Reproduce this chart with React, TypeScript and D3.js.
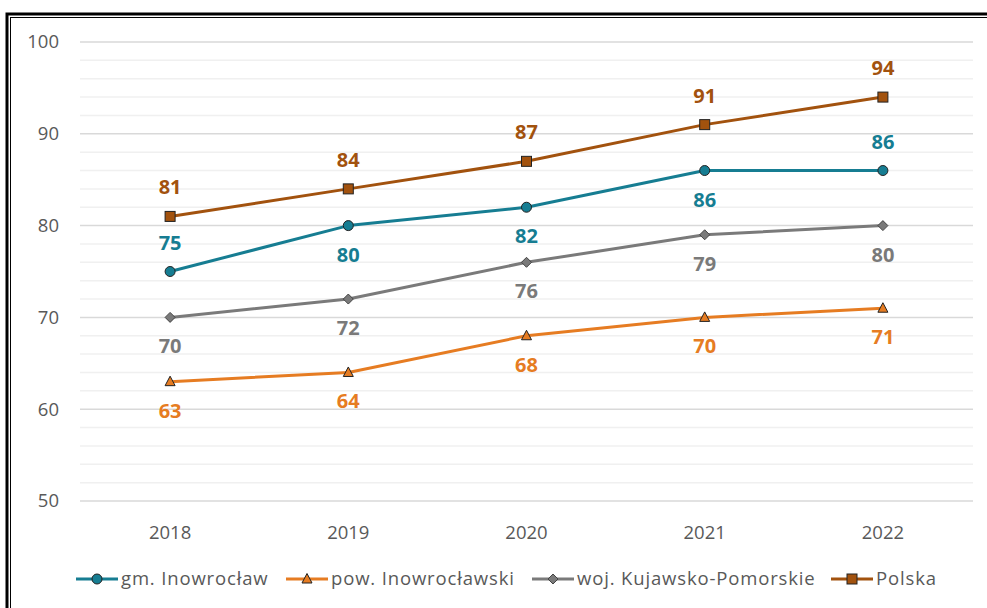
import React from "react";
import * as d3 from "d3";

const years = ["2018", "2019", "2020", "2021", "2022"];
const gmValues = [75, 80, 82, 86, 86];
const powValues = [63, 64, 68, 70, 71];
const wojValues = [70, 72, 76, 79, 80];
const plValues = [81, 84, 87, 91, 94];
const yTicks = [50, 60, 70, 80, 90, 100];

const seriesNames = ["gm. Inowrocław", "pow. Inowrocławski", "woj. Kujawsko-Pomorskie", "Polska"];
// label placement: 1 = above, -1 = below
const gmLabelPos = [1, -1, -1, -1, 1];
const powLabelPos = [-1, -1, -1, -1, -1];
const wojLabelPos = [-1, -1, -1, -1, -1];
const plLabelPos = [1, 1, 1, 1, 1];

const W = 987;
const H = 608;
const left = 81;
const right = 972;
const top = 42;
const bottom = 501;

const series = [
  { name: seriesNames[0], values: gmValues, pos: gmLabelPos, color: "#167d92", marker: "circle" },
  { name: seriesNames[1], values: powValues, pos: powLabelPos, color: "#e67c22", marker: "triangle" },
  { name: seriesNames[2], values: wojValues, pos: wojLabelPos, color: "#7a7a7a", marker: "diamond" },
  { name: seriesNames[3], values: plValues, pos: plLabelPos, color: "#a2520e", marker: "square" },
];

const legendX = [76, 286, 532, 831];

function Marker({ type, x, y, color }: { type: string; x: number; y: number; color: string }) {
  const stroke = "#222";
  if (type === "circle") return <circle cx={x} cy={y} r={5} fill={color} stroke={stroke} strokeWidth={1} />;
  if (type === "square") return <rect x={x - 5} y={y - 5} width={10} height={10} fill={color} stroke={stroke} strokeWidth={1} />;
  if (type === "triangle")
    return <path d={`M${x},${y - 5.5}L${x + 5},${y + 4}L${x - 5},${y + 4}Z`} fill={color} stroke={stroke} strokeWidth={1} />;
  return <path d={`M${x},${y - 5}L${x + 5},${y}L${x},${y + 5}L${x - 5},${y}Z`} fill={color} stroke="#444" strokeWidth={1} />;
}

export default function App() {
  const x = d3.scaleBand<string>().domain(years).range([left, right]);
  const y = d3.scaleLinear().domain([50, 100]).range([bottom, top]);
  const cx = (yr: string) => (x(yr) as number) + x.bandwidth() / 2;
  const line = d3
    .line<number>()
    .x((_, i) => cx(years[i]))
    .y((d) => y(d));
  const minor = d3.range(50, 101, 2).filter((v) => v % 10 !== 0);
  const font = "'Open Sans', sans-serif";

  return (
    <div style={{ position: "fixed", left: 0, top: 0 }}>
      <svg width={W} height={H} style={{ display: "block", background: "#fff" }}>
        <rect x={0} y={0} width={W} height={H} fill="#fff" />
        <rect x={7} y={14} width={W + 20} height={H + 20} fill="none" stroke="#000" strokeWidth={3} />
        <rect x={10.5} y={17.5} width={W + 20} height={H + 20} fill="none" stroke="#000" strokeWidth={1} />
        {minor.map((v) => (
          <line key={"m" + v} x1={left - 1} x2={right + 1} y1={y(v)} y2={y(v)} stroke="#f0f0f0" strokeWidth={1.5} />
        ))}
        {yTicks.map((v) => (
          <line key={"g" + v} x1={left - 1} x2={right + 1} y1={y(v)} y2={y(v)} stroke="#d9d9d9" strokeWidth={1.5} />
        ))}
        {yTicks.map((v) => (
          <text key={"t" + v} x={59} y={y(v)} dy="0.35em" textAnchor="end" fontFamily={font} fontSize={18.5} fill="#595959">
            {v}
          </text>
        ))}
        {years.map((yr) => (
          <text key={yr} x={cx(yr)} y={533} dy="0.35em" textAnchor="middle" fontFamily={font} fontSize={18.5} fill="#595959">
            {yr}
          </text>
        ))}
        {series.map((s) => (
          <g key={s.name}>
            <path d={line(s.values) as string} fill="none" stroke={s.color} strokeWidth={3} strokeLinejoin="round" />
            {s.values.map((v, i) => (
              <Marker key={i} type={s.marker} x={cx(years[i])} y={y(v)} color={s.color} />
            ))}
            {s.values.map((v, i) => (
              <text
                key={"l" + i}
                x={cx(years[i])}
                y={y(v) - s.pos[i] * 29}
                dy="0.35em"
                textAnchor="middle"
                fontFamily={font}
                fontWeight="bold"
                fontSize={20}
                fill={s.color}
              >
                {v}
              </text>
            ))}
          </g>
        ))}
        {series.map((s, i) => (
          <g key={"leg" + i}>
            <line x1={legendX[i]} x2={legendX[i] + 42} y1={579} y2={579} stroke={s.color} strokeWidth={3} />
            <Marker type={s.marker} x={legendX[i] + 21} y={579} color={s.color} />
            <text
              x={legendX[i] + 45}
              y={579}
              dy="0.35em"
              fontFamily={font}
              fontSize={18.5}
              letterSpacing={0.85}
              fill="#595959"
            >
              {s.name}
            </text>
          </g>
        ))}
      </svg>
    </div>
  );
}
